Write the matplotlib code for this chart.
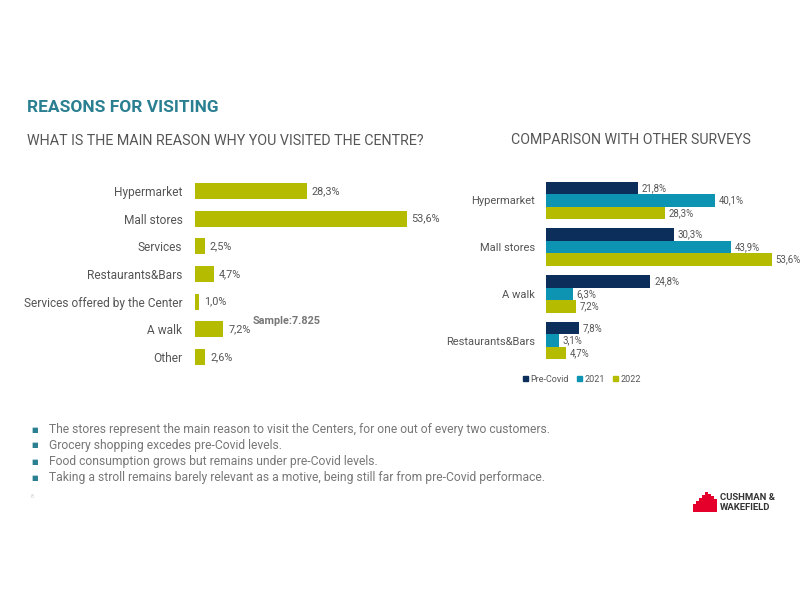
import matplotlib
matplotlib.use("Agg")
import matplotlib.pyplot as plt
from matplotlib.patches import Patch

FONT = ['Roboto', 'DejaVu Sans']
plt.rcParams['font.family'] = FONT

LIME = '#B5BC00'
NAVY = '#0B2E5A'
TEAL = '#0E94B3'
GRAY = '#555555'

# Left chart data
reasons = ['Hypermarket', 'Mall stores', 'Services', 'Restaurants&Bars',
           'Services offered by the Center', 'A walk', 'Other']
share_2022 = [28.3, 53.6, 2.5, 4.7, 1.0, 7.2, 2.6]

# Right chart data
groups = ['Hypermarket', 'Mall stores', 'A walk', 'Restaurants&Bars']
series_names = ['Pre-Covid', '2021', '2022']
pre_covid = [21.8, 30.3, 24.8, 7.8]
y2021 = [40.1, 43.9, 6.3, 3.1]
y2022 = [28.3, 53.6, 7.2, 4.7]

bullets = [
    'The stores represent the main reason to visit the Centers, for one out of every two customers.',
    'Grocery shopping excedes pre-Covid levels.',
    'Food consumption grows but remains under pre-Covid levels.',
    'Taking a stroll remains barely relevant as a motive, being still far from pre-Covid performace.',
]

def fmt(v):
    return f'{v:.1f}'.replace('.', ',') + '%'

fig = plt.figure(figsize=(8, 6), dpi=100)
fig.patch.set_facecolor('white')

# Titles
fig.text(27/800, 1-108/600, 'REASONS FOR VISITING', fontsize=12.5, fontweight='bold',
         color='#2A7F91', va='center', ha='left')
fig.text(27/800, 1-141/600, 'WHAT IS THE MAIN REASON WHY YOU VISITED THE CENTRE?',
         fontsize=10.3, color=GRAY, va='center', ha='left')
fig.text(511/800, 1-140/600, 'COMPARISON WITH OTHER SURVEYS',
         fontsize=10.2, color=GRAY, va='center', ha='left')

# Left chart
axl = fig.add_axes([195/800, 1-371/600, 237/800, 194/600])
yl = list(range(len(reasons)))
axl.barh(yl, share_2022, height=0.58, color=LIME)
for y, v in zip(yl, share_2022):
    axl.text(v + 1.2, y, fmt(v), va='center', ha='left', fontsize=7.8, color=GRAY)
axl.set_xlim(0, 60)
axl.set_ylim(len(reasons) - 0.5, -0.5)
axl.set_yticks(yl)
axl.set_yticklabels(reasons, fontsize=8.6, color=GRAY)
axl.tick_params(axis='y', length=0, pad=9)
axl.set_xticks([])
for s in axl.spines.values():
    s.set_visible(False)
axl.text(14.5, 4.7, 'Sample:7.825', fontsize=7.8, fontweight='bold', color='#777777',
         va='center', ha='left')

# Right chart
axr = fig.add_axes([546/800, 1-364/600, 231.5/800, 187/600])
h = 0.267
yr = list(range(len(groups)))
cols = [NAVY, TEAL, LIME]
for k, (vals, c) in enumerate(zip([pre_covid, y2021, y2022], cols)):
    pos = [y + (k - 1) * h for y in yr]
    axr.barh(pos, vals, height=h, color=c)
    for p, v in zip(pos, vals):
        axr.text(v + 0.9, p, fmt(v), va='center', ha='left', fontsize=6.9,
                 color=GRAY, clip_on=False)
axr.set_xlim(0, 55)
axr.set_ylim(len(groups) - 0.5, -0.5)
axr.set_yticks(yr)
axr.set_yticklabels(groups, fontsize=8, color=GRAY)
axr.tick_params(axis='y', length=0, pad=8)
axr.set_xticks([])
for s in axr.spines.values():
    s.set_visible(False)

handles = [Patch(color=c, label=n) for c, n in zip(cols, series_names)]
fig.legend(handles=handles, loc='center', bbox_to_anchor=(582/800, 1-379/600),
           ncol=3, frameon=False, fontsize=6.5, handlelength=0.55, handleheight=0.55,
           columnspacing=0.9, handletextpad=0.3, labelcolor=GRAY)

# Bullets
bullet_y = [430, 445, 462, 478]
for by, t in zip(bullet_y, bullets):
    fig.text(31/800, 1-by/600, '\u25A0', fontsize=5, color='#2A7F91', va='center', ha='left',
             family=['DejaVu Sans'])
    fig.text(49/800, 1-by/600, t, fontsize=8.7, color='#777777', va='center', ha='left')

fig.text(31/800, 1-497/600, '8', fontsize=4, color='#cccccc', va='center', ha='left')

# Logo
logo = fig.add_axes([693/800, 1-512/600, 24/800, 20/600])
logo.axis('off')
heights = [0.4, 0.55, 0.7, 0.85, 1.0, 0.92, 0.8, 0.65]
logo.bar(range(len(heights)), heights, width=0.8, color='#E4002B')
logo.set_xlim(-0.5, len(heights) - 0.5)
logo.set_ylim(0, 1)
fig.text(720/800, 1-497/600, 'CUSHMAN &', fontsize=6.8, fontweight='bold', color='#333333',
         va='center', ha='left')
fig.text(720/800, 1-508/600, 'WAKEFIELD', fontsize=6.8, fontweight='bold', color='#333333',
         va='center', ha='left')

fig.savefig('out.png', dpi=100, facecolor='white')
